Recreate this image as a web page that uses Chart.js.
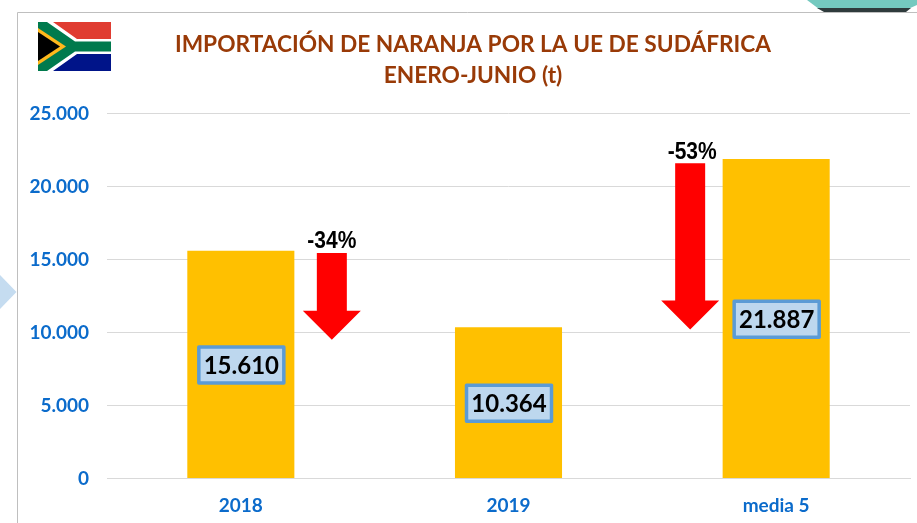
<!DOCTYPE html>
<html><head><meta charset="utf-8">
<script src="https://cdn.jsdelivr.net/npm/chart.js@4"></script>
<style>html,body{margin:0;padding:0;background:#fff}canvas{display:block}</style>
</head><body><div style="width:917px;height:523px;position:relative"><canvas id="c" width="917" height="523"></canvas></div>
<script>
const categories = ['2018','2019','media 5'];
const values = [15610,10364,21887];
const valueLabels = ['15.610','10.364','21.887'];
const titleLines = ['IMPORTACIÓN DE NARANJA POR LA UE DE SUDÁFRICA','ENERO-JUNIO (t)'];
const arrowLabels = ['-34%','-53%'];
const arrowFrom = [15450,21600];
const arrowTo = [9500,10200];
const arrowCategory = [0,2];
const arrowOffset = [91,-86];

const decor = {
  id:'decor',
  afterLayout(ch){
    // title is centred on x=473, not on the full canvas
    if(ch.titleBlock){ ch.titleBlock.left=36; ch.titleBlock.right=910; }
  },
  beforeDraw(ch){
    const c=ch.ctx; c.save();
    c.fillStyle='#fff'; c.fillRect(0,0,917,523);
    // frame
    c.strokeStyle='#bfbfbf'; c.lineWidth=1;
    c.beginPath(); c.moveTo(17.5,523); c.lineTo(17.5,12.5); c.lineTo(917,12.5); c.stroke();
    // left pale-blue pointer
    c.fillStyle='#c5dcf0';
    c.beginPath(); c.moveTo(0,275); c.lineTo(16.5,292); c.lineTo(0,309); c.closePath(); c.fill();
    // top-right teal shape
    c.fillStyle='#74c9bf';
    c.beginPath(); c.moveTo(807,0); c.lineTo(917,0); c.lineTo(917,5); c.lineTo(908,9); c.lineTo(819,9); c.closePath(); c.fill();
    c.fillStyle='#2f3b3c';
    c.beginPath(); c.moveTo(817,8); c.lineTo(911,8); c.lineTo(906,12); c.lineTo(824,12); c.closePath(); c.fill();
    // flag
    const x=38,y=22,w=73,h=49;
    c.beginPath(); c.rect(x,y,w,h); c.save(); c.clip();
    c.fillStyle='#e03c31'; c.fillRect(x,y,w,h/2);
    c.fillStyle='#001489'; c.fillRect(x,y+h/2,w,h/2);
    c.fillStyle='#fff';
    c.beginPath(); c.moveTo(x+5,y); c.lineTo(x+15,y); c.lineTo(x+39,y+17); c.lineTo(x+w,y+17); c.lineTo(x+w,y+32); c.lineTo(x+39,y+32); c.lineTo(x+15,y+h); c.lineTo(x+5,y+h); c.closePath(); c.fill();
    c.fillStyle='#007a4d';
    c.beginPath(); c.moveTo(x,y); c.lineTo(x+9,y); c.lineTo(x+37,y+19.5); c.lineTo(x+w,y+19.5); c.lineTo(x+w,y+29.5); c.lineTo(x+37,y+29.5); c.lineTo(x+9,y+h); c.lineTo(x,y+h); c.closePath(); c.fill();
    c.fillStyle='#ffb81c';
    c.beginPath(); c.moveTo(x,y+6); c.lineTo(x+28,y+24.5); c.lineTo(x,y+43); c.closePath(); c.fill();
    c.fillStyle='#000';
    c.beginPath(); c.moveTo(x,y+10); c.lineTo(x+22,y+24.5); c.lineTo(x,y+39); c.closePath(); c.fill();
    c.restore();
    c.restore();
  },
  afterDatasetsDraw(ch){
    const c=ch.ctx, xs=ch.scales.x, ys=ch.scales.y;
    c.save();
    // value boxes, centred in each bar
    values.forEach((v,i)=>{
      const cx=xs.getPixelForValue(i), cy=ys.getPixelForValue(v/2);
      c.fillStyle='#bdd7ee'; c.strokeStyle='#5b9bd5'; c.lineWidth=3.5; c.lineJoin='round';
      c.fillRect(cx-42,cy-17.5,85,36); c.strokeRect(cx-42,cy-17.5,85,36);
      c.fillStyle='#000'; c.font='bold 24px Lato'; c.textAlign='center'; c.textBaseline='middle';
      c.fillText(valueLabels[i],cx+0.5,cy+1.5);
    });
    // arrows
    arrowLabels.forEach((t,i)=>{
      const cx=xs.getPixelForValue(arrowCategory[i])+arrowOffset[i];
      const top=ys.getPixelForValue(arrowFrom[i]), tip=ys.getPixelForValue(arrowTo[i]);
      c.fillStyle='#ff0000';
      c.beginPath();
      c.moveTo(cx-15,top); c.lineTo(cx+15,top); c.lineTo(cx+15,tip-29); c.lineTo(cx+29,tip-29);
      c.lineTo(cx,tip); c.lineTo(cx-29,tip-29); c.lineTo(cx-15,tip-29); c.closePath(); c.fill();
      c.save();
      c.translate(cx+(i===0?0:2),top-(i===0?5:4));
      c.scale(0.875,1);
      c.fillStyle='#000'; c.font='bold 24px "Liberation Sans"'; c.textAlign='center'; c.textBaseline='alphabetic';
      c.fillText(t,0,0);
      c.restore();
    });
    c.restore();
  }
};

new Chart(document.getElementById('c'),{
  type:'bar',
  data:{labels:categories,datasets:[{data:values,backgroundColor:'#ffc000',barPercentage:0.4,categoryPercentage:1}]},
  plugins:[decor],
  options:{
    responsive:false,animation:false,
    layout:{padding:{left:19,right:7,top:0,bottom:0}},
    plugins:{
      legend:{display:false},tooltip:{enabled:false},
      title:{display:true,text:titleLines,color:'#993a07',align:'center',
        font:{family:'Lato',size:22.7,weight:'bold',lineHeight:1.4},padding:{top:28.5,bottom:21.5}}
    },
    scales:{
      x:{grid:{display:false},border:{color:'#d9d9d9'},
        afterFit(s){s.height=44.5;},
        ticks:{color:'#0b6bcb',font:{family:'Lato',size:19,weight:'bold'},padding:8,maxRotation:0}},
      y:{min:0,max:25000,afterFit(s){s.width=88;},
        grid:{color:'#d9d9d9',drawTicks:false},border:{display:false},
        ticks:{stepSize:5000,padding:18,color:'#0b6bcb',font:{family:'Lato',size:19,weight:'bold'},
          callback:v=>v===0?'0':String(v/1000)+'.000'}}
    }
  }
});
</script></body></html>
